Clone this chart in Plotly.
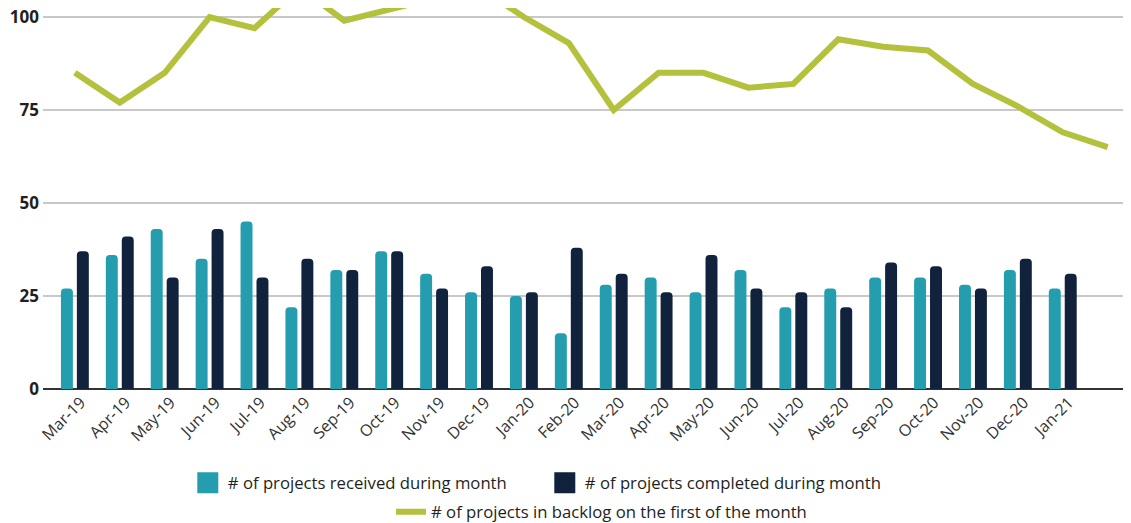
import plotly.graph_objects as go

months = ["Mar-19", "Apr-19", "May-19", "Jun-19", "Jul-19", "Aug-19", "Sep-19", "Oct-19",
          "Nov-19", "Dec-19", "Jan-20", "Feb-20", "Mar-20", "Apr-20", "May-20", "Jun-20",
          "Jul-20", "Aug-20", "Sep-20", "Oct-20", "Nov-20", "Dec-20", "Jan-21", "Feb-21"]
tick_labels = months[:23]

received = [27, 36, 43, 35, 45, 22, 32, 37, 31, 26, 25, 15, 28, 30, 26, 32,
            22, 27, 30, 30, 28, 32, 27, None]
completed = [37, 41, 30, 43, 30, 35, 32, 37, 27, 33, 26, 38, 31, 26, 36, 27,
             26, 22, 34, 33, 27, 35, 31, None]
backlog = [85, 77, 85, 100, 97, 108, 99, 102, 105, 108, 100, 93, 75, 85, 85, 81,
           82, 94, 92, 91, 82, 76, 69, 65]

name_received = "# of projects received during month"
name_completed = "# of projects completed during month"
name_backlog = "# of projects in backlog on the first of the month"

TEAL = "#249DAE"
NAVY = "#10223C"
GREEN = "#B4C13D"
TEXT = "#231F20"

fig = go.Figure()
fig.add_trace(go.Bar(x=months, y=received, name=name_received, showlegend=False,
                     marker=dict(color=TEAL, line=dict(width=0))))
fig.add_trace(go.Bar(x=months, y=completed, name=name_completed, showlegend=False,
                     marker=dict(color=NAVY, line=dict(width=0))))
fig.add_trace(go.Scatter(x=months, y=backlog, mode="lines", name=name_backlog,
                         cliponaxis=False,
                         line=dict(color=GREEN, width=6), legend="legend2"))
# legend-only entries with larger square swatches
for nm, col in [(name_received, TEAL), (name_completed, NAVY)]:
    fig.add_trace(go.Scatter(x=[None], y=[None], mode="markers", name=nm, legend="legend",
                             marker=dict(symbol="square", size=16, color=col,
                                         line=dict(color=col, width=5))))

fig.update_layout(
    width=1123, height=515,
    margin=dict(l=35, r=0, t=0, b=134, autoexpand=False),
    paper_bgcolor="white", plot_bgcolor="white",
    barmode="group", bargap=0.29, bargroupgap=0.25, barcornerradius=4,
    font=dict(family="Open Sans, sans-serif", color=TEXT),
    showlegend=True,
    legend=dict(orientation="h", xref="container", yref="container",
                x=0.478, xanchor="center", y=0.0777, yanchor="middle", itemsizing="trace",
                entrywidth=312, font=dict(size=16.7, color=TEXT), bgcolor="rgba(0,0,0,0)"),
    legend2=dict(orientation="h", xref="container", yref="container",
                 x=0.5285, xanchor="center", y=0.0214, yanchor="middle",
                 font=dict(size=16.7, color=TEXT), bgcolor="rgba(0,0,0,0)"),
)
fig.update_xaxes(
    type="category", categoryorder="array", categoryarray=months,
    range=[-0.71, 23.52], tickmode="array", tickvals=tick_labels, ticktext=tick_labels,
    tickangle=-45, tickfont=dict(size=16, color="#333333"), ticklabelshift=6,
    showgrid=False, showline=False, ticks="", zeroline=False, automargin=False,
)
fig.update_yaxes(
    range=[0, 102.42], tickvals=[0, 25, 50, 75, 100],
    tickfont=dict(size=17, color=TEXT, weight="bold"), ticklabeloverflow="allow",
    showgrid=True, gridcolor="#C8C8C8", gridwidth=2,
    zeroline=True, zerolinecolor="#333333", zerolinewidth=2,
    showline=False, ticks="", ticklabelstandoff=3, automargin=False,
)

fig.write_html("out.html")
